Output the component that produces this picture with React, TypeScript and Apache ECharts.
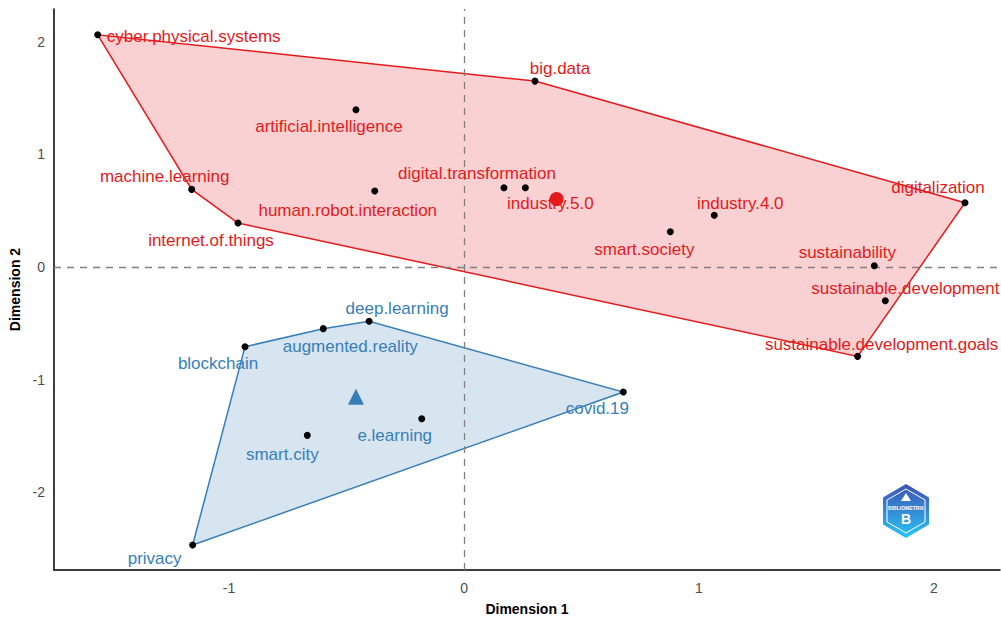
import React, { useEffect, useRef } from "react";
import * as echarts from "echarts";

// ---- data ----
const redWords = [
  "cyber.physical.systems", "big.data", "artificial.intelligence", "machine.learning",
  "human.robot.interaction", "digital.transformation", "industry.5.0", "internet.of.things",
  "smart.society", "industry.4.0", "digitalization", "sustainability",
  "sustainable.development", "sustainable.development.goals",
];
const redX = [-1.559, 0.302, -0.46, -1.159, -0.38, 0.17, 0.261, -0.962, 0.878, 1.065, 2.132, 1.746, 1.793, 1.675];
const redY = [2.061, 1.65, 1.396, 0.689, 0.674, 0.704, 0.704, 0.39, 0.313, 0.459, 0.571, 0.012, -0.299, -0.793];
const redLabelOffsets: [number, number][] = [
  [96, 2], [25, -13], [-27, 17], [-27, -13], [-27, 19], [-27, -14], [25, 16], [-27, 17],
  [-26, 18], [26, -12], [-27, -15], [-27, -13], [20, -12], [24, -12],
];

const blueWords = ["blockchain", "augmented.reality", "deep.learning", "smart.city", "privacy", "e.learning", "covid.19"];
const blueX = [-0.932, -0.599, -0.404, -0.667, -1.155, -0.18, 0.678];
const blueY = [-0.707, -0.547, -0.482, -1.494, -2.467, -1.346, -1.109];
const blueLabelOffsets: [number, number][] = [
  [-27, 17], [27, 18], [28, -13], [-25, 19], [-38, 14], [-27, 17], [-26, 17],
];

const redCentroid: [number, number] = [0.394, 0.603];
const blueCentroid: [number, number] = [-0.46, -1.151];

const xMin = -1.745, xMax = 2.281, yMin = -2.689, yMax = 2.29;

const RED = "#E41A1C";
const BLUE = "#377EB8";

function hull(pts: [number, number][]): [number, number][] {
  const p = pts.slice().sort((a, b) => a[0] - b[0] || a[1] - b[1]);
  const cross = (o: number[], a: number[], b: number[]) =>
    (a[0] - o[0]) * (b[1] - o[1]) - (a[1] - o[1]) * (b[0] - o[0]);
  const lower: [number, number][] = [];
  for (const q of p) {
    while (lower.length >= 2 && cross(lower[lower.length - 2], lower[lower.length - 1], q) < 0) lower.pop();
    lower.push(q);
  }
  const upper: [number, number][] = [];
  for (let i = p.length - 1; i >= 0; i--) {
    const q = p[i];
    while (upper.length >= 2 && cross(upper[upper.length - 2], upper[upper.length - 1], q) < 0) upper.pop();
    upper.push(q);
  }
  upper.pop(); lower.pop();
  return lower.concat(upper);
}

const FONT = "'Liberation Sans', Arial, sans-serif";

export default function App() {
  const ref = useRef<HTMLDivElement>(null);
  useEffect(() => {
    if (!ref.current) return;
    const chart = echarts.init(ref.current, undefined, { renderer: "svg" });
    const redPts: [number, number][] = redX.map((x, i) => [x, redY[i]]);
    const bluePts: [number, number][] = blueX.map((x, i) => [x, blueY[i]]);
    const hulls = [
      { pts: hull(redPts), color: RED, fill: "rgba(228,26,28,0.2)" },
      { pts: hull(bluePts), color: BLUE, fill: "rgba(55,126,184,0.2)" },
    ];

    const pointSeries = (words: string[], pts: [number, number][], offs: [number, number][], color: string) => ({
      type: "scatter",
      z: 5,
      symbol: "circle",
      symbolSize: 7,
      itemStyle: { color: "#000", opacity: 1 },
      data: pts.map((p, i) => ({
        value: p,
        name: words[i],
        label: {
          show: true,
          formatter: words[i],
          position: "inside",
          offset: offs[i],
          color,
          fontSize: 17,
          fontFamily: FONT,
        },
      })),
      silent: true,
    });

    const tickFmt = (v: number) => (Math.abs(v - Math.round(v)) < 1e-6 ? String(Math.round(v)) : "");

    chart.setOption({
      animation: false,
      backgroundColor: "#fff",
      grid: { left: 54, right: 1, top: 9, bottom: 51, containLabel: false, outerBoundsMode: "none" },
      xAxis: {
        type: "value",
        min: xMin,
        max: xMax,
        splitNumber: 4,
        name: "Dimension 1",
        nameLocation: "middle",
        nameGap: 32,
        nameTextStyle: { fontWeight: "bold", fontSize: 14, color: "#000", fontFamily: FONT },
        axisLine: { show: true, onZero: false, lineStyle: { color: "#000", width: 1.5 } },
        axisTick: { show: false },
        splitLine: { show: false },
        axisLabel: { color: "#4D4D4D", fontSize: 14, fontFamily: FONT, margin: 11, showMinLabel: false, showMaxLabel: false, formatter: tickFmt },
      },
      yAxis: {
        type: "value",
        min: yMin,
        max: yMax,
        splitNumber: 5,
        name: "Dimension 2",
        nameLocation: "middle",
        nameGap: 31,
        nameTextStyle: { fontWeight: "bold", fontSize: 14, color: "#000", fontFamily: FONT },
        axisLine: { show: true, onZero: false, lineStyle: { color: "#000", width: 1.5 } },
        axisTick: { show: false },
        splitLine: { show: false },
        axisLabel: { color: "#4D4D4D", fontSize: 14, fontFamily: FONT, margin: 9, showMinLabel: false, showMaxLabel: false, formatter: tickFmt },
      },
      series: [
        {
          type: "custom",
          z: 1,
          silent: true,
          data: hulls.map((_, i) => [i]),
          renderItem: (params: any, api: any) => {
            const h = hulls[params.dataIndex];
            return {
              type: "polygon",
              shape: { points: h.pts.map((p) => api.coord(p)) },
              style: { fill: h.fill, stroke: h.color, lineWidth: 1.5 },
            };
          },
        },
        {
          type: "line",
          z: 2,
          data: [],
          silent: true,
          markLine: {
            silent: true,
            symbol: "none",
            label: { show: false },
            lineStyle: { color: "#808080", type: [7, 6], width: 1.3 },
            data: [{ xAxis: 0 }, { yAxis: 0 }],
          },
        },
        pointSeries(redWords, redPts, redLabelOffsets, RED),
        pointSeries(blueWords, bluePts, blueLabelOffsets, BLUE),
        {
          type: "scatter",
          z: 4,
          silent: true,
          itemStyle: { opacity: 1 },
          data: [
            { value: redCentroid, symbol: "circle", symbolSize: 14, itemStyle: { color: RED, opacity: 1 } },
            { value: blueCentroid, symbol: "triangle", symbolSize: 16, itemStyle: { color: BLUE, opacity: 1 } },
          ],
        },
      ],
      graphic: [
        {
          type: "group",
          x: 906,
          y: 511,
          children: [
            {
              type: "polygon",
              shape: { points: [[0, -27], [23, -13.5], [23, 13.5], [0, 27], [-23, 13.5], [-23, -13.5]] },
              style: {
                fill: new echarts.graphic.LinearGradient(0, 0, 0, 1, [
                  { offset: 0, color: "#3F51B5" },
                  { offset: 1, color: "#29C5F6" },
                ]),
              },
            },
            {
              type: "polygon",
              shape: { points: [[0, -22], [19, -11], [19, 11], [0, 22], [-19, 11], [-19, -11]] },
              style: { fill: "none", stroke: "#ffffff", lineWidth: 1 },
            },
            {
              type: "polygon",
              shape: { points: [[0, -18], [5, -10], [-5, -10]] },
              style: { fill: "#ffffff" },
            },
            {
              type: "text",
              x: 0,
              y: -3,
              style: { text: "BIBLIOMETRIX", fontSize: 5, fontWeight: "bold", fill: "#fff", align: "center", verticalAlign: "middle", fontFamily: FONT },
            },
            {
              type: "text",
              x: 0,
              y: 8,
              style: { text: "B", fontSize: 14, fontWeight: "bold", fill: "#fff", align: "center", verticalAlign: "middle", fontFamily: FONT },
            },
          ],
        },
      ],
    });
    return () => chart.dispose();
  }, []);
  return <div ref={ref} style={{ width: 1001, height: 621, position: "absolute", left: 0, top: 0 }} />;
}
